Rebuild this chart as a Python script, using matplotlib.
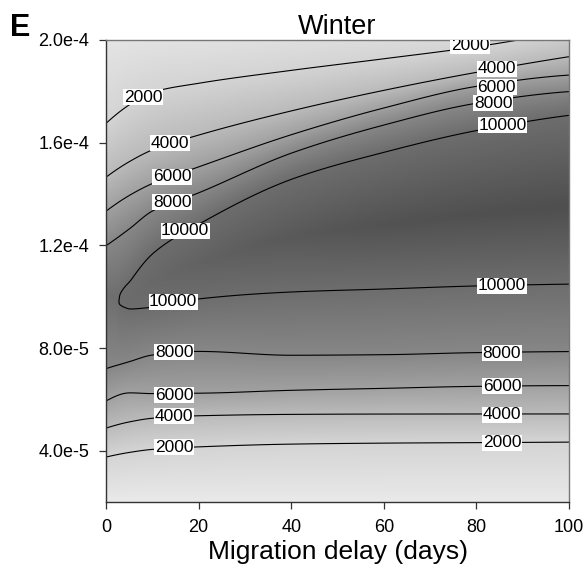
import numpy as np
import matplotlib
matplotlib.use("Agg")
import matplotlib.pyplot as plt
from matplotlib.colors import LinearSegmentedColormap

plt.rcParams['font.family'] = ['Liberation Sans', 'DejaVu Sans']

# ---------------- data (y in units of 1e-5) ----------------
x_cols = [0, 5, 10, 20, 40, 60, 80, 100]          # migration delay (days)
levels = [2000, 4000, 6000, 8000, 10000]

bottom_vals = [300, 300, 300, 300, 300, 300, 300, 300]      # value at y = 2e-5
top_vals = [300, 300, 300, 300, 400, 500, 700, 1000]        # value at y = 2.1e-4 (just above frame)
peak_vals = [9850, 10150, 10400, 10900, 11600, 12100, 12300, 12400]
peak_y = [10.0, 10.05, 10.6, 11.3, 12.3, 12.8, 13.2, 13.5]

# loop tip of the 10000 contour (left side)
tip_x, tip_y = 2.4, 9.75

# lower crossings of each contour level
lower_2000 = [3.77, 3.95, 4.07, 4.17, 4.28, 4.32, 4.34, 4.36]
lower_4000 = [4.88, 5.12, 5.27, 5.37, 5.42, 5.43, 5.43, 5.43]
lower_6000 = [5.93, 6.25, 6.21, 6.22, 6.34, 6.42, 6.50, 6.53]
lower_8000 = [7.17, 7.45, 7.72, 7.86, 7.70, 7.72, 7.80, 7.84]
lower_10000 = [np.nan, 9.48, 9.56, 9.90, 10.18, 10.30, 10.42, 10.49]

# upper crossings of each contour level
upper_10000 = [np.nan, 10.60, 11.70, 12.85, 14.60, 15.65, 16.50, 17.10]
upper_8000 = [12.00, 12.65, 13.35, 14.05, 15.60, 16.70, 17.55, 18.00]
upper_6000 = [13.33, 13.94, 14.40, 15.05, 16.30, 17.35, 18.20, 18.63]
upper_4000 = [14.64, 15.24, 15.70, 16.28, 17.22, 18.02, 18.72, 19.34]
upper_2000 = [16.72, 17.45, 17.95, 18.30, 18.80, 19.25, 19.72, 20.35]

y_ticks = [4e-5, 8e-5, 1.2e-4, 1.6e-4, 2.0e-4]
y_tick_labels = ['4.0e-5', '8.0e-5', '1.2e-4', '1.6e-4', '2.0e-4']
x_ticks = [0, 20, 40, 60, 80, 100]


# ---------------- helpers ----------------
def pchip(x, y, xn):
    x = np.asarray(x, float)
    y = np.asarray(y, float)
    xn = np.asarray(xn, float)
    h = np.diff(x)
    d = np.diff(y) / h
    n = len(x)
    m = np.zeros(n)
    for k in range(1, n - 1):
        if d[k - 1] * d[k] > 0:
            w1 = 2 * h[k] + h[k - 1]
            w2 = h[k] + 2 * h[k - 1]
            m[k] = (w1 + w2) / (w1 / d[k - 1] + w2 / d[k])

    def end(h0, h1, d0, d1):
        mm = ((2 * h0 + h1) * d0 - h0 * d1) / (h0 + h1)
        if np.sign(mm) != np.sign(d0):
            mm = 0.0
        elif np.sign(d0) != np.sign(d1) and abs(mm) > abs(3 * d0):
            mm = 3 * d0
        return mm
    m[0] = end(h[0], h[1], d[0], d[1])
    m[-1] = end(h[-1], h[-2], d[-1], d[-2])
    idx = np.clip(np.searchsorted(x, xn) - 1, 0, n - 2)
    t = (xn - x[idx]) / h[idx]
    h00 = 2 * t**3 - 3 * t**2 + 1
    h10 = t**3 - 2 * t**2 + t
    h01 = -2 * t**3 + 3 * t**2
    h11 = t**3 - t**2
    return h00 * y[idx] + h10 * h[idx] * m[idx] + h01 * y[idx + 1] + h11 * h[idx] * m[idx + 1]


def level_curve(row, xq):
    xs = [x for x, v in zip(x_cols, row) if not np.isnan(v)]
    vs = [v for v in row if not np.isnan(v)]
    return pchip(xs, vs, xq)


# ---------------- build field ----------------
y_grid = np.linspace(2, 21, 571)
x_fine = np.linspace(0, 100, 501)

lower_rows = [lower_2000, lower_4000, lower_6000, lower_8000, lower_10000]
upper_rows = [upper_2000, upper_4000, upper_6000, upper_8000, upper_10000]
low_c = [level_curve(r, x_fine) for r in lower_rows]
up_c = [level_curve(r, x_fine) for r in upper_rows]

# rounded tip for the 10000 loop
x5 = x_cols[1]
lo5, up5 = lower_10000[1], upper_10000[1]
s = np.clip((x_fine - tip_x) / (x5 - tip_x), 0, 1)
tip_zone = x_fine < x5
low_c[4] = np.where(tip_zone, tip_y + (lo5 - tip_y) * np.sqrt(s), low_c[4])
up_c[4] = np.where(tip_zone, tip_y + (up5 - tip_y) * np.sqrt(s), up_c[4])

pk_v = pchip(x_cols, peak_vals, x_fine)
pk_y = pchip(x_cols, peak_y, x_fine)
bot_v = pchip(x_cols, bottom_vals, x_fine)
top_v = pchip(x_cols, top_vals, x_fine)

Z = np.zeros((len(y_grid), len(x_fine)))
for i, xv in enumerate(x_fine):
    ys = [2.0]
    vs = [bot_v[i]]
    has10 = xv > tip_x
    for k, lev in enumerate(levels):
        if lev == 10000 and not has10:
            continue
        ys.append(low_c[k][i])
        vs.append(lev)
    if has10:
        lo, up = low_c[4][i], up_c[4][i]
        py = np.clip(pk_y[i], lo + 0.25 * (up - lo), up - 0.25 * (up - lo))
        pv = max(pk_v[i], 10010)
    else:
        py = pk_y[i]
        pv = min(pk_v[i], 9990)
    ys.append(py)
    vs.append(pv)
    for k in range(len(levels) - 1, -1, -1):
        lev = levels[k]
        if lev == 10000 and not has10:
            continue
        ys.append(up_c[k][i])
        vs.append(lev)
    ys.append(21.0)
    vs.append(top_v[i])
    Z[:, i] = np.interp(y_grid, ys, vs)


def smooth(a, n, axis):
    k = np.ones(n) / n
    pad = n // 2
    a2 = np.pad(a, [(pad, pad) if ax == axis else (0, 0) for ax in range(2)], mode='edge')
    return np.apply_along_axis(lambda r: np.convolve(r, k, mode='valid'), axis, a2)


Z = smooth(Z, 7, 0)
Z = smooth(Z, 5, 1)

keep = y_grid <= 20.0001
Zs = Z[keep]
Y = y_grid[keep] * 1e-5

# ---------------- plot ----------------
fig = plt.figure(figsize=(5.87, 5.73), dpi=100)
ax = fig.add_axes([0.1806, 0.1239, 0.7888, 0.8063])

cmap = LinearSegmentedColormap.from_list('g', [(0.93, 0.93, 0.93), (0.30, 0.30, 0.30)])
ax.imshow(Zs, extent=[0, 100, 2e-5, 2e-4], origin='lower', aspect='auto',
          cmap=cmap, vmin=0, vmax=12600, interpolation='bilinear')
cs = ax.contour(x_fine, Y, Zs, levels=levels, colors='black', linewidths=0.8)

label_pos = [
    (8.0, 17.77e-5), (13.8, 15.97e-5), (14.3, 14.68e-5), (14.3, 13.67e-5), (17.1, 12.57e-5),
    (14.5, 9.8e-5), (14.7, 7.84e-5), (14.7, 6.16e-5), (14.7, 5.34e-5), (14.7, 4.13e-5),
    (78.6, 19.77e-5), (84.4, 18.87e-5), (84.4, 18.16e-5), (83.6, 17.54e-5), (85.7, 16.68e-5),
    (85.5, 10.42e-5), (85.5, 7.8e-5), (85.5, 6.51e-5), (85.5, 5.4e-5), (85.5, 4.3e-5),
]
txts = ax.clabel(cs, fmt='%d', manual=label_pos, inline=False, fontsize=12.5, colors='black')
for t, pos in zip(txts, label_pos):
    t.set_rotation(0)
    t.set_position(pos)
    t.set_bbox(dict(facecolor='white', edgecolor='none', pad=0.4))
    t.set_zorder(5)

ax.set_xlim(0, 100)
ax.set_ylim(2e-5, 2e-4)
ax.set_xticks(x_ticks)
ax.set_yticks(y_ticks)
ax.set_yticklabels(y_tick_labels)
ax.tick_params(axis='both', direction='out', length=5, width=0.9, labelsize=13,
               color='#333333', pad=7)
for sp in ['left', 'bottom']:
    ax.spines[sp].set_color('#333333')
    ax.spines[sp].set_linewidth(1.0)
for sp in ['top', 'right']:
    ax.spines[sp].set_color('#777777')
    ax.spines[sp].set_linewidth(1.0)

ax.set_xlabel('Migration delay (days)', fontsize=19, labelpad=3)
ax.set_title('Winter', fontsize=19.5, pad=4)
fig.text(0.017, 0.977, 'E', fontsize=22, fontweight='bold', va='top', ha='left')

fig.savefig('out.png', dpi=100)
